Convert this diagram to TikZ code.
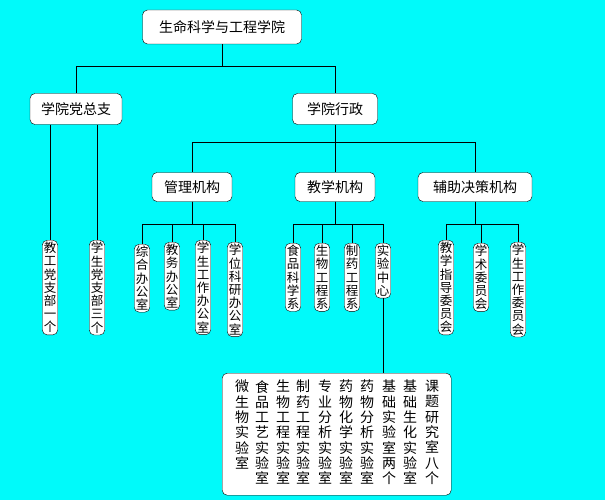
\documentclass[tikz,border=0pt]{standalone}
\usepackage{fontspec}
\setmainfont{Noto Sans CJK SC}
\usetikzlibrary{positioning}
\definecolor{bgcyan}{RGB}{0,250,250}
\begin{document}
\begin{tikzpicture}[x=1pt,y=-1pt,
     box/.style={draw,fill=white,rounded corners=5pt,font=\fontsize{14}{15}\selectfont,inner sep=3pt},
     vbox/.style={box,align=center,anchor=north,inner xsep=1.5pt,inner ysep=2pt,font=\fontsize{12.5}{13.2}\selectfont},
     col/.style={align=center,anchor=north,inner sep=0pt,font=\fontsize{14}{15.3}\selectfont},
     link/.style={draw,line width=0.6pt}
     ]
\fill[bgcyan] (0,0) rectangle (605,500);
\useasboundingbox (0,0) rectangle (605,500);
\node[box,minimum width=159pt,minimum height=34pt] (root) at (222,27) {生命科学与工程学院};
\node[box,minimum width=92pt,minimum height=31pt] (party) at (76,109) {学院党总支};
\node[box,minimum width=85pt,minimum height=31pt] (admin) at (335,109) {学院行政};
\node[box,minimum width=80pt,minimum height=29pt] (mgmt) at (192,187) {管理机构};
\node[box,minimum width=80pt,minimum height=29pt] (teach) at (335,187) {教学机构};
\node[box,minimum width=114pt,minimum height=29pt] (aux) at (475,187) {辅助决策机构};
% party branches
\node[vbox] (p1) at (50,240) {教\\工\\党\\支\\部\\一\\个};
\node[vbox] (p2) at (97,240) {学\\生\\党\\支\\部\\三\\个};
% management
\node[vbox] (m1) at (142,244) {综\\合\\办\\公\\室};
\node[vbox] (m2) at (172,242) {教\\务\\办\\公\\室};
\node[vbox] (m3) at (203,240) {学\\生\\工\\作\\办\\公\\室};
\node[vbox] (m4) at (235,242) {学\\位\\科\\研\\办\\公\\室};
% teaching
\node[vbox] (t1) at (293,243) {食\\品\\科\\学\\系};
\node[vbox] (t2) at (322,243) {生\\物\\工\\程\\系};
\node[vbox] (t3) at (352,243) {制\\药\\工\\程\\系};
\node[vbox] (t4) at (383,243) {实\\验\\中\\心};
% auxiliary
\node[vbox] (a1) at (446,240) {教\\学\\指\\导\\委\\员\\会};
\node[vbox] (a2) at (481,243) {学\\术\\委\\员\\会};
\node[vbox] (a3) at (518,242) {学\\生\\工\\作\\委\\员\\会};
% labs
\node[box,anchor=north west,minimum width=229pt,minimum height=122pt] (labs) at (222,373) {};
\node[col] (l1) at (242,380) {微\\生\\物\\实\\验\\室};
\node[col] (l2) at (262,380) {食\\品\\工\\艺\\实\\验\\室};
\node[col] (l3) at (283,380) {生\\物\\工\\程\\实\\验\\室};
\node[col] (l4) at (303,380) {制\\药\\工\\程\\实\\验\\室};
\node[col] (l5) at (325,380) {专\\业\\分\\析\\实\\验\\室};
\node[col] (l6) at (346,380) {药\\物\\化\\学\\实\\验\\室};
\node[col] (l7) at (367,380) {药\\物\\分\\析\\实\\验\\室};
\node[col] (l8) at (389,380) {基\\础\\实\\验\\室\\两\\个};
\node[col] (l9) at (410,380) {基\\础\\生\\化\\实\\验\\室};
\node[col] (l10) at (432,380) {课\\题\\研\\究\\室\\八\\个};
% connectors
\path[link] (root.south) -- ++(0,22) -| (party.north);
\path[link] (root.south) ++(0,22) -| (admin.north);
\path[link] (admin.south) -- ++(0,18) -| (mgmt.north);
\path[link] (admin.south) ++(0,18) -| (aux.north);
\path[link] (admin.south) -- (teach.north);
\path[link] (party.south -| p1) -- (p1.north);
\path[link] (party.south -| p2) -- (p2.north);
\foreach \k in {m1,m2,m3,m4} \path[link] (mgmt.south) -- ++(0,23) -| (\k.north);
\foreach \k in {t1,t2,t3,t4} \path[link] (teach.south) -- ++(0,23) -| (\k.north);
\foreach \k in {a1,a2,a3} \path[link] (aux.south) -- ++(0,23) -| (\k.north);
\path[link] (t4.south) -- (labs.north -| t4);
\end{tikzpicture}
\end{document}
